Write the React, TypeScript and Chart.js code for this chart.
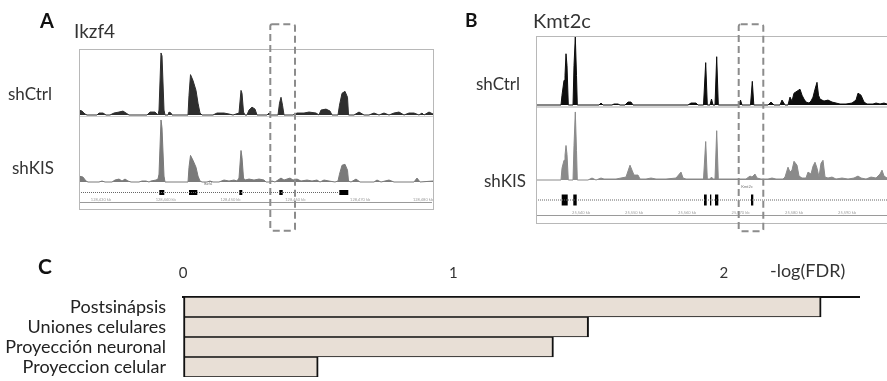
import React, { useEffect, useRef } from "react";
import { Chart, registerables } from "chart.js";
Chart.register(...registerables);

const FONT = "Lato, 'Open Sans', sans-serif";

// ---------- Panel C data ----------
const termLabels = ["Postsinápsis", "Uniones celulares", "Proyección neuronal", "Proyeccion celular"];
const termValues = [2.36, 1.5, 1.37, 0.5];
const fdrTicks = [0, 1, 2];
const fdrAxisTitle = "-log(FDR)";
const fdrTitlePos = 2.31;
const fdrMax = 2.5;

// ---------- Panel A (Ikzf4) coverage: [position, height] ----------
const ikzf4Ctrl: [number, number][] = [
  [0, 5], [3, 4], [6, 1], [8, 0], [18, 0], [20, 2], [24, 2], [27, 0], [31, 0], [35, 2], [40, 3], [44, 4], [47, 2], [50, 0],
  [68, 0], [71, 3], [76, 3], [79, 0], [80, 5], [82, 63], [83, 60], [85, 5], [86, 0], [89, 0], [90, 3], [92, 2], [93, 0],
  [109, 0], [110, 20], [111.5, 41], [114, 35], [117, 25], [119, 12], [121, 2], [123, 0], [134, 0], [138, 2], [145, 2], [150, 1], [154, 0],
  [160, 2], [162, 25], [163, 22], [164.5, 3], [166, 0], [168, 0], [170, 5], [173, 8], [176, 6], [178, 0], [188, 0], [190, 2], [192, 0],
  [199, 0], [200.5, 12], [202, 18], [203.5, 10], [205, 0], [214, 0], [218, 2], [225, 2], [230, 3], [237, 2], [240, 0], [242, 5], [247, 6], [251, 4], [253, 0],
  [259, 0], [260.5, 10], [263, 22], [266, 24], [268.5, 18], [269.5, 0], [275, 0], [280, 3], [285, 0], [290, 0], [295, 2], [300, 0], [305, 2], [310, 0],
  [315, 2], [320, 3], [325, 0], [330, 2], [335, 2], [340, 0], [343, 2], [345, 0], [350, 3], [354, 1],
];
const ikzf4KIS: [number, number][] = [
  [0, 6], [4, 5], [7, 1], [9, 0], [20, 0], [23, 1], [26, 0], [33, 0], [36, 2], [40, 3], [43, 1], [46, 3], [49, 1], [52, 0], [60, 0], [63, 1], [67, 1], [70, 0],
  [72, 1], [77, 2], [79, 3], [80, 8], [82, 63], [83, 55], [85, 6], [86, 0], [109, 0], [110, 15], [111.5, 27], [114, 22], [117, 15], [119, 6], [121, 1], [123, 0],
  [128, 0], [131, 1], [134, 0], [140, 0], [145, 2], [150, 1], [155, 2], [158, 1], [160, 4], [162, 32], [163, 25], [164.5, 4], [166, 2], [170, 3], [175, 2],
  [180, 3], [185, 2], [187, 0], [190, 0], [193, 1], [196, 0], [199, 2], [202, 4], [205, 2], [208, 3], [211, 4], [214, 2], [218, 3], [222, 1], [228, 2], [233, 1],
  [238, 2], [241, 0], [245, 2], [250, 1], [256, 0], [259, 1], [260.5, 8], [263, 17], [266, 18], [268.5, 12], [269.5, 1], [272, 0], [277, 3], [281, 0],
  [295, 0], [298, 2], [302, 0], [310, 2], [315, 0], [335, 0], [338, 4], [341, 0], [354, 1],
];
const ikzf4Intron: [number, number] = [0, 261];
const ikzf4Exons: [number, number][] = [[80.3, 85.3], [110, 118.3], [160.3, 163.3], [200.3, 203.7], [260.3, 269.3]];
const ikzf4Name = "Ikzf4";
const ikzf4NamePos = 129;
const ikzf4RulerPos = [22, 87, 152, 217, 282, 345];
const ikzf4RulerLabels = ["128,430 kb", "128,440 kb", "128,450 kb", "128,460 kb", "128,470 kb", "128,480 kb"];

// ---------- Panel B (Kmt2c) coverage ----------
const kmt2cCtrl: [number, number][] = [
  [0, 0], [25, 0], [26, 10], [28, 25], [29, 30], [30, 52], [31, 40], [32.3, 0], [37, 0], [38, 40], [39.3, 69], [40.5, 30], [41.3, 0],
  [63, 0], [65, 2], [67, 0], [76, 0], [78, 1], [82, 1], [84, 0], [89, 0], [92, 3], [95, 3], [97, 0], [152, 0], [155, 2], [160, 2], [162, 0],
  [167.5, 0], [169.7, 43], [171.3, 0], [174, 0], [175.5, 6], [177, 0], [179, 0], [180.7, 49], [182.3, 0], [203, 0], [204.5, 5], [206, 0],
  [214.5, 0], [216.3, 24], [217.8, 0], [232, 0], [235, 3], [238, 0], [244, 0], [246, 5], [249, 0], [252, 0], [254, 8], [256, 4], [258, 12], [261, 14],
  [264, 16], [266, 10], [268, 6], [270, 3], [273, 2], [275, 4], [277, 8], [279, 16], [281, 23], [282.5, 10], [284, 6], [288, 4], [292, 5], [296, 3],
  [300, 2], [304, 1], [310, 1], [316, 2], [320, 5], [322, 12], [325, 10], [328, 3], [331, 1], [337, 1], [340, 2], [344, 1], [348, 2], [351, 1],
];
const kmt2cKIS: [number, number][] = [
  [0, 0], [25, 0], [26, 12], [28, 20], [29, 25], [30, 35], [31, 26], [32.3, 0], [37, 0], [38, 35], [39.3, 69], [40.5, 30], [41.3, 0], [52, 0], [56, 2], [60, 0],
  [65, 2], [68, 1], [75, 1], [80, 1], [90, 3], [94, 15], [96, 10], [98, 5], [102, 5], [104, 1], [110, 1], [115, 2], [120, 1], [130, 1], [140, 2], [145, 8],
  [147, 2], [150, 1], [160, 1], [167.5, 1], [169.7, 39], [171.3, 1], [174, 1], [175.5, 3], [177, 1], [179, 1], [180.7, 50], [182.3, 1], [188, 1], [200, 1],
  [210, 1], [214, 4], [216, 3], [219, 6], [221, 2], [225, 1], [232, 1], [236, 2], [240, 1], [247, 1], [249, 3], [252, 13], [254, 8], [256, 10], [258, 19],
  [261, 15], [263, 4], [266, 2], [270, 2], [272, 8], [275, 6], [277, 14], [279, 18], [281, 12], [283, 3], [285, 17], [287, 20], [289, 3], [292, 2], [296, 3],
  [300, 1], [306, 2], [312, 1], [318, 2], [322, 4], [325, 2], [330, 1], [335, 3], [340, 2], [344, 6], [346, 10], [348, 4], [351, 2],
];
const kmt2cIntron: [number, number] = [0, 352];
const kmt2cExons: [number, number][] = [[25.7, 31.7], [37.3, 40.7], [168, 170.7], [174, 175.3], [179, 182.3], [215, 217.3]];
const kmt2cName = "Kmt2c";
const kmt2cNamePos = 211;
const kmt2cRulerPos = [45, 98, 151, 204.5, 258, 311];
const kmt2cRulerLabels = ["25,540 kb", "25,550 kb", "25,560 kb", "25,570 kb", "25,580 kb", "25,590 kb"];

const quiet = { legend: { display: false }, tooltip: { enabled: false } };

function CoverageTrack(props: { left: number; top: number; width: number; height: number; points: [number, number][]; color: string; xMax: number }) {
  const ref = useRef<HTMLCanvasElement>(null);
  const { left, top, width, height, points, color, xMax } = props;
  useEffect(() => {
    const chart = new Chart(ref.current!, {
      type: "line",
      data: {
        datasets: [{
          data: points.map(([x, y]) => ({ x, y })),
          borderColor: color, backgroundColor: color, fill: "origin",
          pointRadius: 0, borderWidth: 1, tension: 0,
        }],
      },
      options: {
        animation: false, responsive: false, events: [],
        layout: { padding: 0 }, plugins: quiet as any,
        scales: {
          x: { type: "linear", display: false, min: 0, max: xMax },
          y: { type: "linear", display: false, min: -1, max: height },
        },
      },
    });
    return () => chart.destroy();
  }, []);
  return <canvas ref={ref} width={width} height={height} style={{ position: "absolute", left, top, width, height }} />;
}

function GeneTrack(props: { left: number; top: number; width: number; height: number; xMax: number; intron: [number, number]; exons: [number, number][]; thickness: number; name: string; namePos: number; nameDy: number }) {
  const ref = useRef<HTMLCanvasElement>(null);
  const { left, top, width, height, xMax, intron, exons, thickness, name, namePos, nameDy } = props;
  useEffect(() => {
    const exonPts: any[] = [];
    exons.forEach(([a, b]) => { exonPts.push({ x: a, y: 0 }, { x: b, y: 0 }, { x: b + 0.01, y: null }); });
    const namePlugin = {
      id: "geneName",
      afterDatasetsDraw(c: any) {
        const ctx = c.ctx;
        ctx.save();
        ctx.font = `4px ${FONT}`;
        ctx.fillStyle = "#777";
        ctx.textAlign = "center";
        ctx.textBaseline = "middle";
        ctx.fillText(name, c.scales.x.getPixelForValue(namePos), c.chartArea.top + nameDy);
        ctx.restore();
      },
    };
    const chart = new Chart(ref.current!, {
      type: "line",
      data: {
        datasets: [
          { data: [{ x: intron[0], y: 0 }, { x: intron[1], y: 0 }], borderColor: "#666", borderWidth: 1, borderDash: [1, 1], pointRadius: 0 },
          { data: exonPts, borderColor: "#000", borderWidth: thickness, borderCapStyle: "butt", pointRadius: 0, spanGaps: false },
        ],
      },
      options: {
        animation: false, responsive: false, events: [],
        layout: { padding: 0 }, plugins: quiet as any,
        scales: {
          x: { type: "linear", display: false, min: 0, max: xMax },
          y: { type: "linear", display: false, min: -1, max: 1 },
        },
      },
      plugins: [namePlugin],
    });
    return () => chart.destroy();
  }, []);
  return <canvas ref={ref} width={width} height={height} style={{ position: "absolute", left, top, width, height }} />;
}

function Ruler(props: { left: number; top: number; width: number; xMax: number; positions: number[]; labels: string[] }) {
  const ref = useRef<HTMLCanvasElement>(null);
  const { left, top, width, xMax, positions, labels } = props;
  const height = 9;
  useEffect(() => {
    const chart = new Chart(ref.current!, {
      type: "line",
      data: { datasets: [] },
      options: {
        animation: false, responsive: false, events: [],
        layout: { padding: 0 }, plugins: quiet as any,
        scales: {
          x: {
            type: "linear", position: "top", min: 0, max: xMax,
            afterBuildTicks: (s: any) => { s.ticks = positions.map((v) => ({ value: v })); },
            afterFit: (s: any) => { s.height = 7; },
            ticks: {
              autoSkip: false, maxRotation: 0, padding: 0, color: "#a0a0a0",
              font: { family: FONT, size: 4 },
              callback: (_v: any, i: number) => labels[i],
            },
            grid: { drawOnChartArea: false, drawTicks: false },
            border: { display: true, color: "#9a9a9a", width: 1 },
          },
          y: { display: false },
        },
      },
    });
    return () => chart.destroy();
  }, []);
  return <canvas ref={ref} width={width} height={height} style={{ position: "absolute", left, top, width, height }} />;
}

function TermChart() {
  const ref = useRef<HTMLCanvasElement>(null);
  useEffect(() => {
    const chart = new Chart(ref.current!, {
      type: "bar",
      data: {
        labels: termLabels,
        datasets: [{
          data: termValues,
          backgroundColor: "#E8DFD6",
          borderColor: "#111",
          borderWidth: { top: 1, bottom: 1, left: 2, right: 2 },
          borderSkipped: false,
          barPercentage: 1,
          categoryPercentage: 1,
        }],
      },
      options: {
        indexAxis: "y",
        animation: false, responsive: false, events: [],
        layout: { padding: { left: 0, right: 28, top: 0, bottom: 4 } },
        plugins: quiet as any,
        scales: {
          x: {
            type: "linear", position: "top", min: 0, max: fdrMax,
            afterBuildTicks: (s: any) => { s.ticks = [...fdrTicks, fdrTitlePos].map((v) => ({ value: v })); },
            afterFit: (s: any) => { s.height = 47; },
            ticks: {
              autoSkip: false, maxRotation: 0, padding: 15, color: "#333",
              font: (c: any) => (c.tick && c.tick.value === fdrTitlePos ? { family: FONT, size: 18 } : { family: FONT, size: 15 }),
              callback: (v: any) => (v === fdrTitlePos ? fdrAxisTitle : String(v)),
            },
            grid: { drawOnChartArea: false, drawTicks: false },
            border: { display: true, color: "#111", width: 2 },
          },
          y: {
            afterFit: (s: any) => { s.width = 183; s.paddingTop = 0; s.paddingBottom = 0; },
            ticks: { autoSkip: false, padding: 17, color: "#222", font: { family: FONT, size: 18 } },
            grid: { display: false, drawTicks: false },
            border: { display: false },
          },
        },
      },
    });
    return () => chart.destroy();
  }, []);
  return <canvas ref={ref} width={887} height={131} style={{ position: "absolute", left: 0, top: 250, width: 887, height: 131 }} />;
}

function Label(p: { x: number; y: number; size: number; text: string; bold?: boolean; color?: string }) {
  return (
    <div style={{ position: "absolute", left: p.x, top: p.y, fontSize: p.size, lineHeight: `${p.size}px`, fontWeight: p.bold ? 700 : 400, color: p.color || "#333", whiteSpace: "nowrap", fontFamily: FONT }}>
      {p.text}
    </div>
  );
}

export default function App() {
  return (
    <div style={{ position: "fixed", left: 0, top: 0, width: 887, height: 381, background: "#fff", overflow: "hidden" }}>
      {/* Panel A */}
      <CoverageTrack left={79} top={50} width={354} height={66} points={ikzf4Ctrl} color="#2e2e2e" xMax={354} />
      <CoverageTrack left={79} top={117} width={354} height={66} points={ikzf4KIS} color="#7a7a7a" xMax={354} />
      <div style={{ position: "absolute", left: 79, top: 116, width: 354, height: 1, background: "#cfcfcf" }} />
      <GeneTrack left={79} top={181} width={354} height={23} xMax={354} intron={ikzf4Intron} exons={ikzf4Exons} thickness={5} name={ikzf4Name} namePos={ikzf4NamePos} nameDy={3} />
      <Ruler left={79} top={195} width={354} xMax={354} positions={ikzf4RulerPos} labels={ikzf4RulerLabels} />
      <div style={{ position: "absolute", left: 79, top: 49, width: 355, height: 161, border: "1px solid #b8b8b8", boxSizing: "border-box" }} />

      {/* Panel B */}
      <CoverageTrack left={536} top={37} width={351} height={69} points={kmt2cCtrl} color="#0d0d0d" xMax={351} />
      <CoverageTrack left={536} top={108} width={351} height={73} points={kmt2cKIS} color="#8a8a8a" xMax={351} />
      <div style={{ position: "absolute", left: 536, top: 106, width: 351, height: 2, background: "#d4d4d4" }} />
      <GeneTrack left={536} top={182} width={351} height={36} xMax={351} intron={kmt2cIntron} exons={kmt2cExons} thickness={11} name={kmt2cName} namePos={kmt2cNamePos} nameDy={4.7} />
      <Ruler left={536} top={208} width={351} xMax={351} positions={kmt2cRulerPos} labels={kmt2cRulerLabels} />
      <div style={{ position: "absolute", left: 536, top: 36, width: 360, height: 188, border: "1px solid #b8b8b8", boxSizing: "border-box" }} />

      <svg width={887} height={381} style={{ position: "absolute", left: 0, top: 0 }}>
        <rect x={270.3} y={24.3} width={24.7} height={206.4} rx={2} fill="none" stroke="#8c8c8c" strokeWidth={2} strokeDasharray="7 4" />
        <rect x={738.7} y={24.3} width={24.6} height={207} rx={2} fill="none" stroke="#8c8c8c" strokeWidth={2} strokeDasharray="7 4" />
      </svg>

      <Label x={40} y={10} size={20} bold text="A" color="#111" />
      <Label x={74} y={21} size={19} text="Ikzf4" />
      <Label x={8} y={85} size={17} text="shCtrl" />
      <Label x={12} y={159} size={17} text="shKIS" />
      <Label x={465} y={10} size={19} bold text="B" color="#111" />
      <Label x={533} y={10} size={20} text="Kmt2c" />
      <Label x={476} y={75} size={17} text="shCtrl" />
      <Label x={484} y={172} size={17} text="shKIS" />
      <Label x={38} y={255} size={21} bold text="C" color="#111" />

      {/* Panel C */}
      <TermChart />
    </div>
  );
}
